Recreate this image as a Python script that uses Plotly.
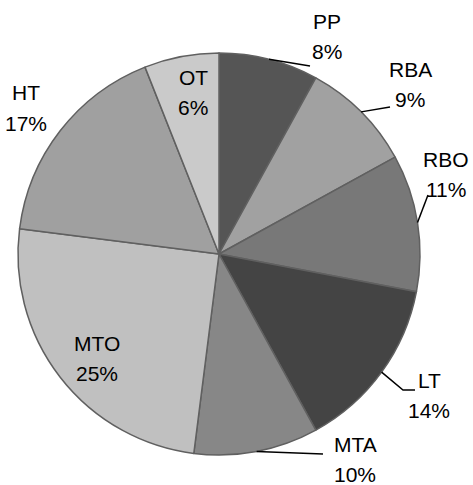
import math
import plotly.graph_objects as go

# Share of each category (percent), in clockwise order starting at 12 o'clock
categories = ["PP", "RBA", "RBO", "LT", "MTA", "MTO", "HT", "OT"]
shares = [8, 9, 11, 14, 10, 25, 17, 6]
slice_colors = ["#555555", "#a1a1a1", "#787878", "#444444",
                "#878787", "#c0c0c0", "#a0a0a0", "#cacaca"]

W, H = 473, 485
CX, CY, R = 219, 254, 201  # pie centre and radius in pixels

FONT = dict(family="Liberation Sans, Arial, sans-serif", size=21, color="#000000")
LINE_GAP = 30  # pixels between the name line and the percent line

# Label anchors: centre of the name line (pixels); percent sits one line below
label_pos = {
    "PP": (327, 22), "RBA": (410, 70), "RBO": (446, 160), "LT": (429, 380),
    "MTA": (355, 444), "MTO": (97, 343), "HT": (26, 93), "OT": (193, 77),
}
leaders = {
    "PP": [(310, 66)],
    "RBA": [(390, 107)],
    "RBO": [(428, 195)],
    "LT": [(403, 390), (415, 390)],
    "MTA": [(323, 454)],
}


def px(x):
    return x / W


def py(y):
    return 1 - y / H


fig = go.Figure(go.Pie(
    labels=categories,
    values=shares,
    sort=False,
    direction="clockwise",
    rotation=0,
    marker=dict(colors=slice_colors, line=dict(color="#606060", width=1.5)),
    textinfo="none",
    hoverinfo="label+percent",
    domain=dict(x=[(CX - R) / W, (CX + R) / W], y=[py(CY + R), py(CY - R)]),
    showlegend=False,
))

total = sum(shares)
annotations = []
shapes = []
cum = 0
for name, v in zip(categories, shares):
    mid = (cum + v / 2) / total * 2 * math.pi
    cum += v
    lx, ly = label_pos[name]
    for text, y in ((name, ly), (f"{round(v / total * 100)}%", ly + LINE_GAP)):
        annotations.append(dict(
            x=px(lx), y=py(y), xref="paper", yref="paper",
            text=text, showarrow=False, font=FONT,
            xanchor="center", yanchor="middle",
        ))
    if name in leaders:
        pts = [(CX + R * math.sin(mid), CY - R * math.cos(mid))] + leaders[name]
        path = "M " + " L ".join(f"{px(x):.5f},{py(y):.5f}" for x, y in pts)
        shapes.append(dict(type="path", path=path, xref="paper", yref="paper",
                           line=dict(color="#000000", width=1.5)))

fig.update_layout(
    width=W, height=H,
    margin=dict(l=0, r=0, t=0, b=0),
    paper_bgcolor="#ffffff",
    plot_bgcolor="#ffffff",
    annotations=annotations,
    shapes=shapes,
)

fig.write_html("out.html")
